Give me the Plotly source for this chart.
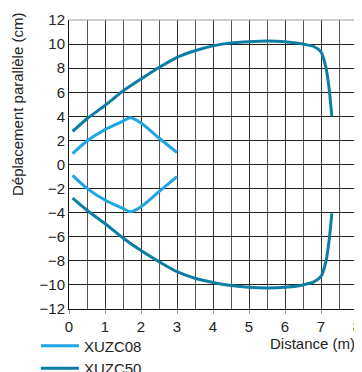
import plotly.graph_objects as go

# XUZC08 (upper and lower branches)
dist_08 = [0.1, 0.5, 1.0, 1.5, 1.7, 2.0, 2.5, 3.0]
upper_08 = [0.9, 1.95, 2.9, 3.6, 3.88, 3.45, 2.2, 1.0]
lower_08 = [-0.9, -1.98, -2.95, -3.65, -3.92, -3.5, -2.25, -1.0]

# XUZC50 (upper and lower branches)
dist_50 = [0.1, 0.5, 1.0, 1.5, 2.0, 2.5, 3.0, 3.5, 4.0, 4.5, 5.0, 5.5, 6.0, 6.5, 6.8, 7.0, 7.14, 7.23, 7.3]
upper_50 = [2.75, 3.8, 4.9, 6.1, 7.1, 8.05, 8.9, 9.45, 9.85, 10.1, 10.2, 10.25, 10.2, 10.0, 9.8, 9.35, 8.0, 6.2, 4.0]
lower_50 = [-2.8, -3.8, -4.9, -6.1, -7.15, -8.07, -8.9, -9.45, -9.8, -10.05, -10.2, -10.25, -10.2, -10.0, -9.75, -9.3, -8.0, -6.2, -4.05]

x_ticks = [0, 1, 2, 3, 4, 5, 6, 7, 8]
y_ticks = [-12, -10, -8, -6, -4, -2, 0, 2, 4, 6, 8, 10, 12]

c08 = "#1ea5e3"
c50 = "#0b7ea3"
font = "Liberation Sans, Arial, sans-serif"

fig = go.Figure()
fig.add_trace(go.Scatter(x=dist_08, y=upper_08, mode="lines", name="XUZC08", legendgroup="08",
                         line=dict(color=c08, width=3, shape="spline", smoothing=0.8)))
fig.add_trace(go.Scatter(x=dist_08, y=lower_08, mode="lines", name="XUZC08", legendgroup="08", showlegend=False,
                         line=dict(color=c08, width=3, shape="spline", smoothing=0.8)))
fig.add_trace(go.Scatter(x=dist_50, y=upper_50, mode="lines", name="XUZC50", legendgroup="50",
                         line=dict(color=c50, width=3, shape="spline", smoothing=0.6)))
fig.add_trace(go.Scatter(x=dist_50, y=lower_50, mode="lines", name="XUZC50", legendgroup="50", showlegend=False,
                         line=dict(color=c50, width=3, shape="spline", smoothing=0.6)))

# The page body has an 8px default margin, so the figure is 8px smaller on each axis
fig.update_layout(
    width=354, height=364,
    margin=dict(l=61, r=4.5, t=12, b=62.5, autoexpand=False),
    paper_bgcolor="white", plot_bgcolor="white",
    font=dict(family=font, size=15, color="#222"),
    showlegend=True,
    legend=dict(x=-0.115, y=-0.071, xanchor="left", yanchor="top", orientation="v",
                font=dict(size=15, color="#222"), tracegroupgap=0, itemwidth=38,
                bgcolor="rgba(0,0,0,0)"),
    xaxis=dict(range=[0, 8], tickvals=x_ticks, showgrid=True, gridcolor="#333", gridwidth=1,
               minor=dict(dtick=0.5, showgrid=True, gridcolor="#555", gridwidth=1),
               showline=True, linecolor="#111", linewidth=1, mirror=False,
               ticks="outside", ticklen=4, tickcolor="#999", zeroline=False,
               tickfont=dict(size=15)),
    yaxis=dict(range=[-12, 12], tickvals=y_ticks, showgrid=True, gridcolor="#222", gridwidth=1,
               showline=True, linecolor="#111", linewidth=1,
               ticks="", zeroline=False, tickfont=dict(size=15)),
    annotations=[
        dict(text="Déplacement parallèle (cm)", xref="paper", yref="paper", x=-0.177, y=0.706,
             textangle=-90, showarrow=False, xanchor="center", yanchor="middle",
             font=dict(size=15, color="#222")),
        dict(text="Distance (m)", xref="paper", yref="paper", x=1.0, y=-0.12,
             showarrow=False, xanchor="right", yanchor="middle",
             font=dict(size=15, color="#222")),
    ],
    shapes=[
        dict(type="line", xref="paper", yref="paper", x0=0, x1=1, y0=1, y1=1,
             line=dict(color="#999", width=1)),
        dict(type="line", xref="paper", yref="paper", x0=1, x1=1, y0=0, y1=1,
             line=dict(color="#999", width=1)),
    ],
)

fig.write_html("out.html")
